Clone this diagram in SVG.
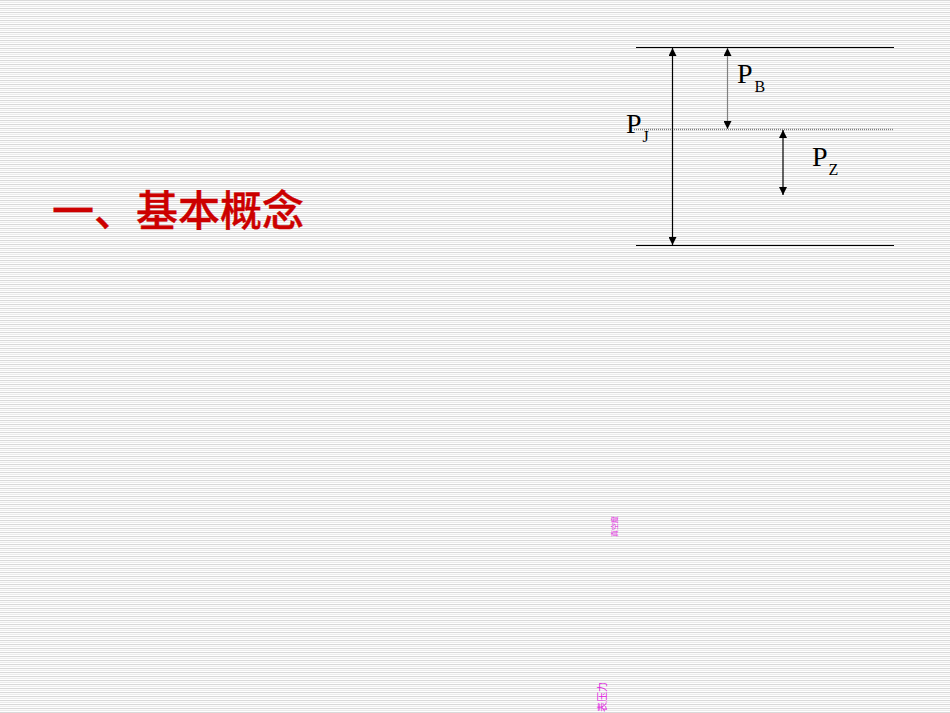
<svg xmlns="http://www.w3.org/2000/svg" width="950" height="713" viewBox="0 0 950 713">
<defs>
<pattern id="stripes" x="0" y="0" width="8" height="4" patternUnits="userSpaceOnUse">
<rect x="0" y="0" width="8" height="4" fill="#ffffff"/>
<rect x="0" y="0" width="8" height="1.1" fill="#d9d9d9"/>
<rect x="0" y="2" width="8" height="1" fill="#ebebeb"/>
</pattern>
<marker id="ah" viewBox="0 0 10 10" refX="10" refY="5" markerWidth="8" markerHeight="8" markerUnits="userSpaceOnUse" orient="auto-start-reverse">
<path d="M0,0 L10,5 L0,10 z" fill="#000"/>
</marker>
<style>
.ln{stroke:#000;stroke-width:1.2;fill:none}
.arr{stroke:#000;stroke-width:1.2;marker-start:url(#ah);marker-end:url(#ah)}
.p{font-family:"Liberation Serif",serif;font-size:28px;fill:#000}
.s{font-family:"Liberation Serif",serif;font-size:16px;fill:#000}
.title{font-family:"Noto Sans CJK SC",sans-serif;font-size:42px;font-weight:500;fill:#cc0000;stroke:#cc0000;stroke-width:0.4}
.mg{font-family:"Noto Sans CJK SC",sans-serif;fill:#e020e0}
</style>
</defs>
<rect width="950" height="713" fill="url(#stripes)"/>
<g id="title"><text class="title" x="52" y="226">一、基本概念</text></g>
<g id="levels">
<line class="ln" x1="636" y1="47.5" x2="894" y2="47.5"/>
<line x1="634" y1="129.5" x2="894" y2="129.5" stroke="#808080" stroke-width="1.5" stroke-dasharray="1 1"/>
<line class="ln" x1="636" y1="245.5" x2="894" y2="245.5"/>
</g>
<g id="connectors">
<line class="arr" x1="672.5" y1="48" x2="672.5" y2="245"/>
<line class="arr" x1="727.5" y1="48" x2="727.5" y2="129" style="stroke:#808080"/>
<line class="arr" x1="783" y1="130" x2="783" y2="195"/>
</g>
<g id="label-PB"><text class="p" x="737" y="83">P</text><text class="s" x="754.5" y="92">B</text></g>
<g id="label-PJ"><text class="p" x="626" y="133">P</text><text class="s" x="642.5" y="142">J</text></g>
<g id="label-PZ"><text class="p" x="812" y="166">P</text><text class="s" x="828.5" y="175">Z</text></g>
<g id="label-vac"><text class="mg" font-size="7" transform="translate(617,537) rotate(-90)">真空度</text></g>
<g id="label-gauge"><text class="mg" font-size="10" transform="translate(606,712) rotate(-90)">表压力</text></g>
</svg>
